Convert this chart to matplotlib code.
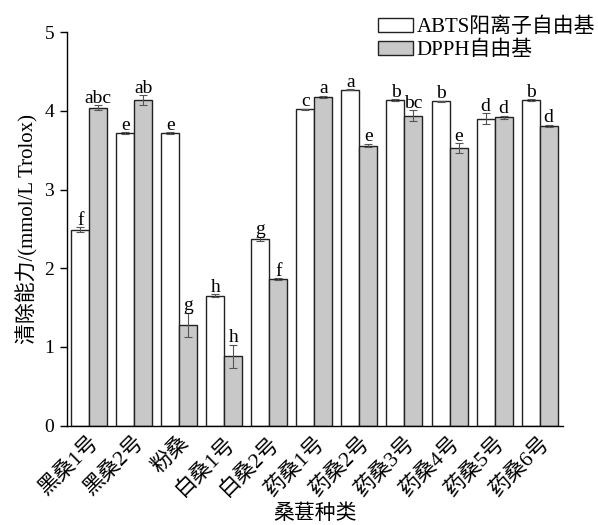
import numpy as np
import matplotlib
matplotlib.use('Agg')
from matplotlib import pyplot as plt

cultivars = ['黑桑1号', '黑桑2号', '粉桑', '白桑1号', '白桑2号', '药桑1号',
             '药桑2号', '药桑3号', '药桑4号', '药桑5号', '药桑6号']
abts = [2.49, 3.72, 3.72, 1.65, 2.37, 4.02, 4.27, 4.14, 4.12, 3.90, 4.14]
abts_err = [0.03, 0.01, 0.01, 0.02, 0.03, 0.01, 0.005, 0.01, 0.01, 0.07, 0.01]
abts_sig = ['f', 'e', 'e', 'h', 'g', 'c', 'a', 'b', 'b', 'd', 'b']
dpph = [4.04, 4.14, 1.28, 0.88, 1.86, 4.18, 3.56, 3.94, 3.53, 3.92, 3.81]
dpph_err = [0.03, 0.06, 0.15, 0.15, 0.01, 0.01, 0.02, 0.07, 0.06, 0.02, 0.01]
dpph_sig = ['abc', 'ab', 'g', 'h', 'f', 'a', 'e', 'bc', 'e', 'd', 'd']

plt.rcParams['font.family'] = ['Liberation Serif', 'Noto Sans CJK SC']
plt.rcParams['font.size'] = 14
plt.rcParams['axes.unicode_minus'] = False

fig = plt.figure(figsize=(5.98, 5.25), dpi=100)
ax = fig.add_axes([0.1115, 0.1895, 0.83, 0.749])

x = np.arange(len(cultivars))
w = 0.4
err_kw = dict(ecolor='#555555', elinewidth=0.8, capsize=3, capthick=0.8)
b1 = ax.bar(x - w / 2, abts, w, yerr=abts_err, color='white', edgecolor='#222222',
            linewidth=1.0, label='ABTS阳离子自由基', error_kw=err_kw)
b2 = ax.bar(x + w / 2, dpph, w, yerr=dpph_err, color='#c8c8c8', edgecolor='#222222',
            linewidth=1.0, label='DPPH自由基', error_kw=err_kw)

for i in range(len(x)):
	ax.annotate(abts_sig[i], (x[i] - w / 2, abts[i] + abts_err[i]), xytext=(0, -1),
				textcoords='offset points', ha='center', va='bottom', fontsize=14)
	ax.annotate(dpph_sig[i], (x[i] + w / 2, dpph[i] + dpph_err[i]), xytext=(0, -1),
				textcoords='offset points', ha='center', va='bottom', fontsize=14)

ax.set_xlim(-0.5, 10.52)
ax.set_ylim(0, 5)
ax.set_yticks([0, 1, 2, 3, 4, 5])
ax.set_xticks(x)
ax.set_xticklabels(cultivars, rotation=45, ha='right', rotation_mode='anchor', fontsize=15.5)
ax.tick_params(axis='x', length=0, pad=5)
ax.tick_params(axis='y', direction='out', length=5, width=1, pad=4, labelsize=14)
ax.spines['top'].set_visible(False)
ax.spines['right'].set_visible(False)
for s in ['left', 'bottom']:
	ax.spines[s].set_linewidth(1.0)

ax.set_ylabel('清除能力/(mmol/L Trolox)', fontsize=15, labelpad=4)
ax.set_xlabel('桑葚种类', fontsize=15, labelpad=3)

fig.legend(handles=[b1, b2], loc='upper right', bbox_to_anchor=(0.995, 0.967),
		   frameon=False, fontsize=15, handlelength=1.7, handleheight=0.65,
		   handletextpad=0.15, labelspacing=0.2, borderpad=0, borderaxespad=0)

plt.savefig('out.png', dpi=100)
plt.close()
